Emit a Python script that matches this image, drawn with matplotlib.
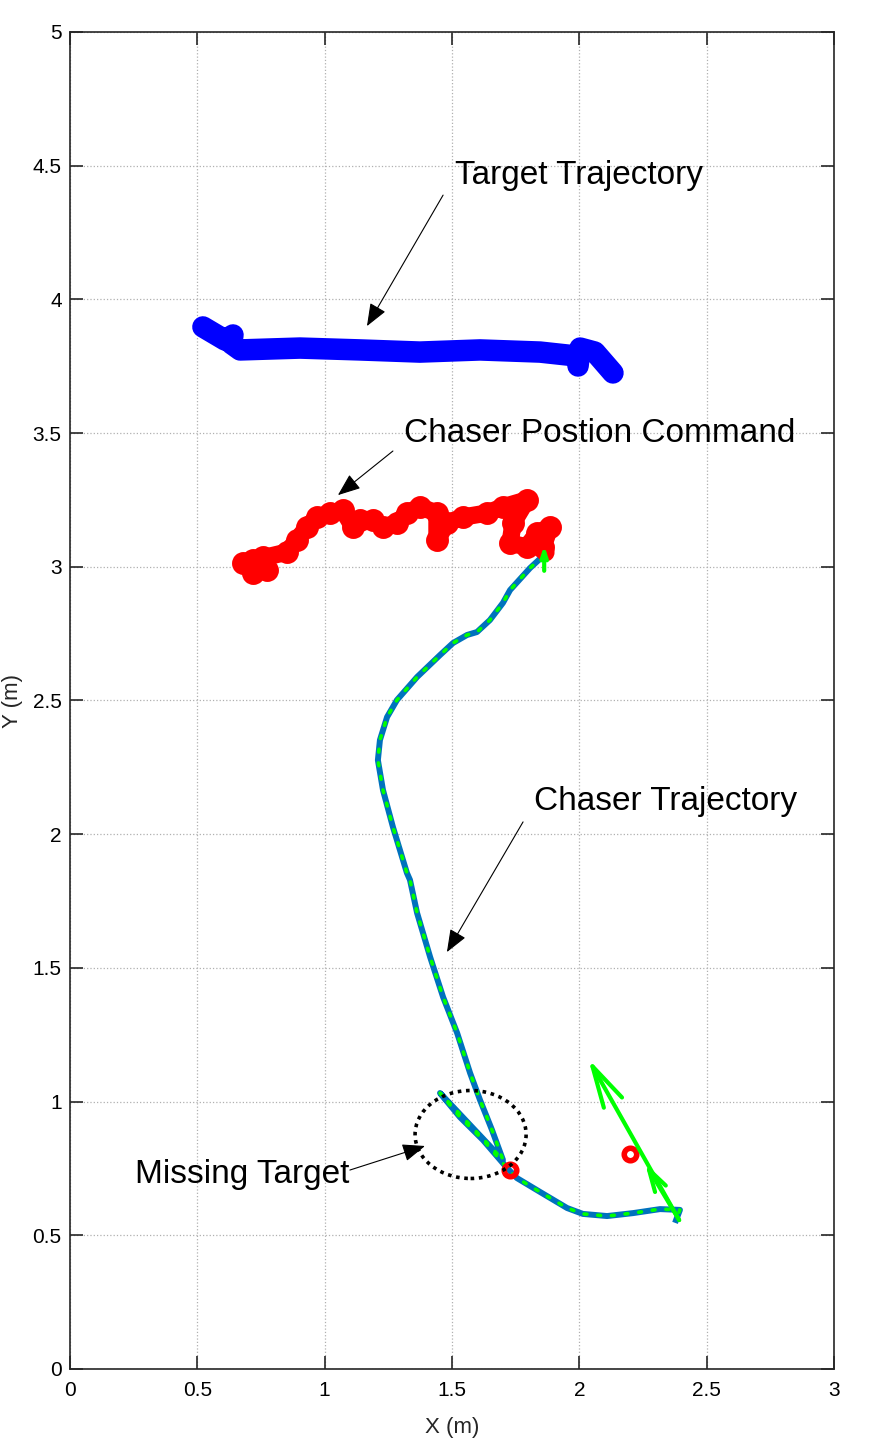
import numpy as np
import matplotlib
matplotlib.use('Agg')
import matplotlib.pyplot as plt
from matplotlib.patches import Ellipse

plt.rcParams['font.family'] = ['Liberation Sans', 'DejaVu Sans']

# target trajectory (blue)
target_x = [0.522, 0.609, 0.640, 0.633, 0.668, 0.903, 1.139, 1.374, 1.610, 1.846,
            1.991, 1.995, 2.003, 2.061, 2.132]
target_y = [3.897, 3.848, 3.867, 3.835, 3.811, 3.818, 3.811, 3.803, 3.811, 3.803,
            3.788, 3.751, 3.818, 3.803, 3.725]

# chaser position command (red)
cmd_x = [0.679, 0.719, 0.774, 0.758, 0.719, 0.852, 0.891, 0.931, 0.970, 1.021,
         1.072, 1.111, 1.139, 1.190, 1.229, 1.284, 1.323, 1.374, 1.441, 1.441,
         1.480, 1.543, 1.637, 1.700, 1.794, 1.740, 1.728, 1.794, 1.834, 1.885,
         1.857]
cmd_y = [3.014, 2.977, 2.988, 3.037, 3.025, 3.055, 3.100, 3.149, 3.186, 3.201,
         3.212, 3.149, 3.175, 3.175, 3.149, 3.164, 3.201, 3.224, 3.201, 3.100,
         3.164, 3.186, 3.201, 3.224, 3.250, 3.164, 3.089, 3.074, 3.126, 3.149,
         3.074]

# chaser trajectory
chaser_x = [1.857, 1.806, 1.728, 1.700, 1.649, 1.598, 1.559, 1.504, 1.453, 1.363,
            1.284, 1.245, 1.217, 1.209, 1.229, 1.268, 1.323, 1.335, 1.363, 1.414,
            1.465, 1.520, 1.571, 1.610, 1.657, 1.700, 1.453, 1.531, 1.622, 1.716,
            1.755, 1.846, 1.952, 2.014, 2.109, 2.211, 2.317, 2.395, 2.380]
chaser_y = [3.040, 2.995, 2.913, 2.865, 2.801, 2.756, 2.745, 2.715, 2.670, 2.588,
            2.502, 2.438, 2.352, 2.277, 2.165, 2.027, 1.855, 1.829, 1.705, 1.541,
            1.391, 1.257, 1.107, 1.006, 0.894, 0.782, 1.032, 0.942, 0.856, 0.752,
            0.714, 0.662, 0.602, 0.580, 0.572, 0.583, 0.598, 0.595, 0.557]

# small red markers
mark_x = [1.865, 1.728, 2.199]
mark_y = [3.055, 0.744, 0.804]

# green direction arrows (tail -> tip)
arrow_tail = [(2.392, 0.557), (2.392, 0.557), (1.862, 2.985)]
arrow_tip = [(2.035, 1.160), (2.258, 0.770), (1.862, 3.080)]
arrow_head = [(3.0, 0.75), (1.6, 0.45), (0.6, 0.2)]

# missing target ellipse
miss_center = (1.573, 0.877)
miss_w, miss_h = 0.436, 0.329

# annotations: text, text pos, arrow start, arrow end
notes = ['Target Trajectory', 'Chaser Postion Command', 'Chaser Trajectory', 'Missing Target']
note_pos = [(1.512, 4.465), (1.311, 3.50), (1.822, 2.124), (0.255, 0.729)]
note_from = [(1.465, 4.39), (1.268, 3.433), (1.779, 2.046), (1.099, 0.744)]
note_to = [(1.166, 3.90), (1.052, 3.268), (1.480, 1.559), (1.394, 0.834)]

fig = plt.figure(figsize=(8.78, 14.52), dpi=100)
ax = fig.add_axes([70/878, 83/1452, 764/878, 1337/1452])

ax.plot(target_x, target_y, color='#0000ff', lw=15.5, solid_capstyle='round',
        solid_joinstyle='round', zorder=3)
ax.plot(cmd_x, cmd_y, color='#ff0000', lw=12.5, solid_capstyle='round',
        solid_joinstyle='round', marker='o', ms=12, mew=4.5, mfc='none', zorder=3)
ax.plot(chaser_x, chaser_y, color='#0072BD', lw=4.3, solid_joinstyle='round', zorder=4)
ax.plot(chaser_x, chaser_y, color='#00ff00', lw=2.6, linestyle=(0, (0.8, 3)),
        dash_capstyle='round', zorder=5)
ax.plot(mark_x, mark_y, 'o', ms=9, mew=4, mfc='none', color='#ff0000', zorder=6)

for (tx, ty), (hx, hy), (hl, hw) in zip(arrow_tail, arrow_tip, arrow_head):
    ax.annotate('', xy=(hx, hy), xytext=(tx, ty),
                arrowprops=dict(arrowstyle='->,head_length=%g,head_width=%g' % (hl, hw),
                                color='#00ff00', lw=3, shrinkA=0, shrinkB=0,
                                mutation_scale=10),
                zorder=7)

ax.add_patch(Ellipse(miss_center, miss_w, miss_h, fill=False, edgecolor='black',
                     lw=2.6, linestyle=(0, (1, 1.3)), zorder=6))

for txt, pos, p0, p1 in zip(notes, note_pos, note_from, note_to):
    ax.text(pos[0], pos[1], txt, fontsize=24, ha='left', va='center', zorder=8)
    ax.annotate('', xy=p1, xytext=p0,
                arrowprops=dict(arrowstyle='-|>,head_length=1.4,head_width=0.55',
                                color='black', lw=0.8, shrinkA=0, shrinkB=0,
                                mutation_scale=10),
                zorder=8)

ax.set_xlim(0, 3)
ax.set_ylim(0, 5)
ax.set_xticks(np.arange(0, 3.01, 0.5))
ax.set_yticks(np.arange(0, 5.01, 0.5))
ax.xaxis.set_major_formatter(plt.FormatStrFormatter('%g'))
ax.yaxis.set_major_formatter(plt.FormatStrFormatter('%g'))
ax.tick_params(direction='in', length=9.5, width=1.2, top=True, right=True,
               labelsize=15, colors='#262626', labelcolor='black')
ax.tick_params(axis='x', pad=9)
ax.tick_params(axis='y', pad=6)
for s in ax.spines.values():
    s.set_color('#262626')
    s.set_linewidth(1.2)
ax.grid(True, color='#b0b0b0', linestyle=':', linewidth=0.9)
ax.set_axisbelow(True)

ax.set_xlabel('X (m)', fontsize=16, color='#262626')
ax.xaxis.label.set_va('center')
ax.xaxis.set_label_coords(0.5, (1369 - 1428) / 1337)
ax.set_ylabel('Y (m)', fontsize=16, color='#262626')
ax.yaxis.label.set_va('center')
ax.yaxis.set_label_coords((12 - 70) / 764, 0.5)

fig.savefig('out.png', dpi=100)
